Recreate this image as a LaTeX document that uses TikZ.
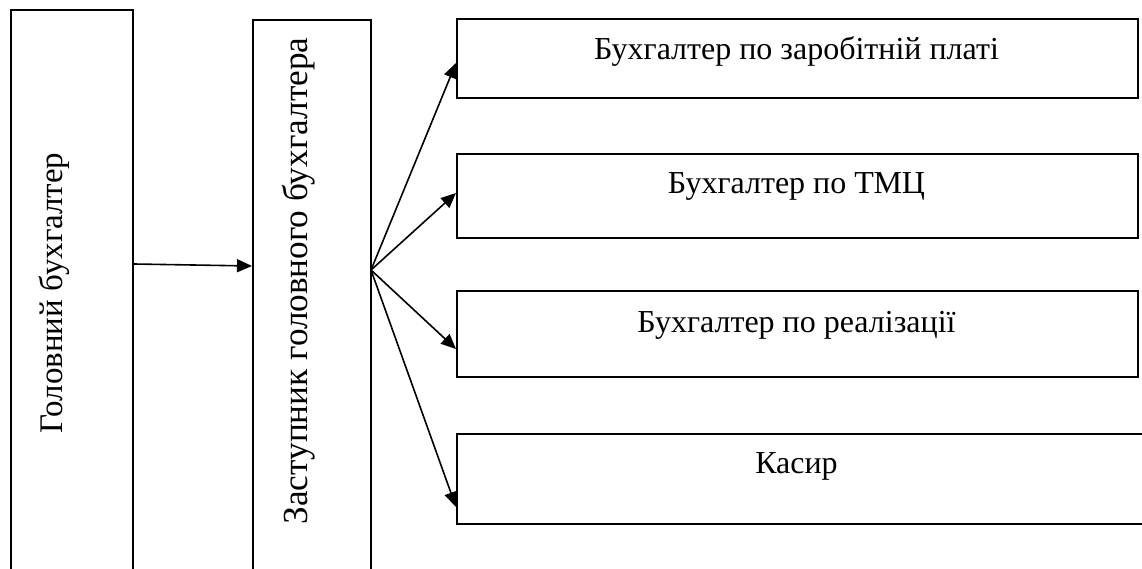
\documentclass[tikz,border=0pt]{standalone}
\usepackage{fontspec}
\setmainfont{Liberation Serif}
\usetikzlibrary{arrows.meta,calc}
\begin{document}
\begin{tikzpicture}[x=1pt,y=-1pt,
  boxshape/.style={draw,line width=1.8pt,rectangle,inner sep=0pt,anchor=north west},
  lbl/.style={font=\fontsize{32}{38}\selectfont,inner sep=0pt,anchor=base},
  vlbl/.style={inner sep=0pt,anchor=base,rotate=90},
  arr/.style={line width=1.6pt,-{Triangle[length=15pt,width=13pt]}}]
\useasboundingbox (0,0) rectangle (1142,569);
\clip (0,0) rectangle (1142,569);
\node[boxshape,minimum width=122pt,minimum height=580pt] (gb) at (10,9) {};
\node[boxshape,minimum width=118pt,minimum height=570pt] (zgb) at (252,19) {};
\node[boxshape,minimum width=681pt,minimum height=79pt] (b1) at (456,18) {};
\node[boxshape,minimum width=681pt,minimum height=84pt] (b2) at (456,153) {};
\node[boxshape,minimum width=681pt,minimum height=86pt] (b3) at (456,290) {};
\node[boxshape,minimum width=700pt,minimum height=90pt] (b4) at (456,433) {};
\node[vlbl,font=\fontsize{33}{38}\selectfont] (tgb) at (62,293) {Головний бухгалтер};
\node[vlbl,font=\fontsize{35.2}{40}\selectfont] (tzgb) at (307,281) {Заступник головного бухгалтера};
\node[lbl] (t1) at (796.5,60) {Бухгалтер по заробітній платі};
\node[lbl] (t2) at (796.5,194) {Бухгалтер по ТМЦ};
\node[lbl] (t3) at (796.5,332) {Бухгалтер по реалізації};
\node[lbl] (t4) at (796.5,473) {Касир};
\coordinate (hub) at (371,270);
\draw[arr] (gb.north east |- 0,264) -- (zgb.north west |- 0,266);
\draw[arr] (hub) -- (b1.north west |- 0,63);
\draw[arr] (hub) -- (b2.north west |- 0,193);
\draw[arr] (hub) -- (b3.north west |- 0,349);
\draw[arr] (hub) -- (b4.north west |- 0,507);
\end{tikzpicture}
\end{document}
